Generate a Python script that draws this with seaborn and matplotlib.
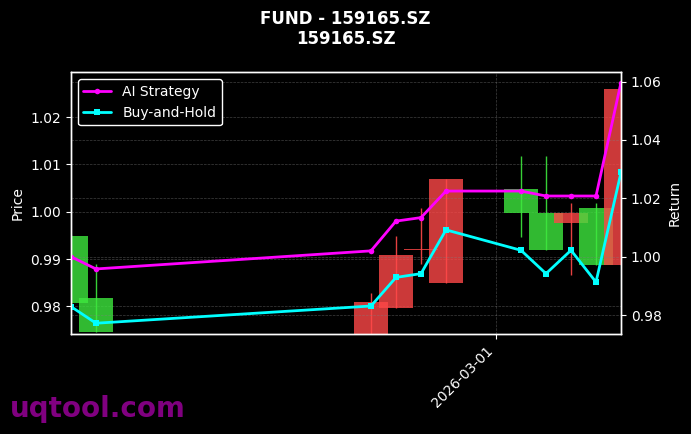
import matplotlib
matplotlib.use("Agg")
import matplotlib.pyplot as plt
import matplotlib.dates as mdates
from matplotlib.ticker import MultipleLocator
import seaborn as sns
import pandas as pd

# ---- data ----
dates = ["2026-02-12", "2026-02-13", "2026-02-24", "2026-02-25", "2026-02-26",
         "2026-02-27", "2026-03-02", "2026-03-03", "2026-03-04", "2026-03-05",
         "2026-03-06"]
open_ = [0.9949, 0.9818, 0.9738, 0.9797, 0.9918, 0.9849, 1.0047, 0.9998, 0.9977, 1.0007, 0.9887]
high = [0.9950, 0.9889, 0.9829, 0.9949, 1.0007, 1.0069, 1.0118, 1.0118, 1.0018, 1.0018, 1.0259]
low = [0.9805, 0.9746, 0.9738, 0.9797, 0.9889, 0.9849, 0.9947, 0.9918, 0.9866, 0.9887, 0.9887]
close = [0.9808, 0.9746, 0.9810, 0.9908, 0.9921, 1.0069, 0.9998, 0.9918, 0.9998, 0.9887, 1.0259]
ai_strategy = [1.0000, 0.9958, 1.0020, 1.0122, 1.0134, 1.0225, 1.0225, 1.0208, 1.0208, 1.0208, 1.0597]
buy_hold = [0.9829, 0.9772, 0.9831, 0.9929, 0.9942, 1.0092, 1.0022, 0.9942, 1.0022, 0.9913, 1.0289]
title_text = "FUND - 159165.SZ\n159165.SZ"

df = pd.DataFrame({"date": pd.to_datetime(dates), "open": open_, "high": high,
                   "low": low, "close": close, "AI Strategy": ai_strategy,
                   "Buy-and-Hold": buy_hold})

sns.set_theme(style="dark", rc={
    "figure.facecolor": "black", "axes.facecolor": "black",
    "axes.edgecolor": "white", "axes.labelcolor": "white",
    "xtick.color": "white", "ytick.color": "white", "text.color": "white",
    "xtick.bottom": True, "ytick.left": True,
})
plt.rcParams["font.family"] = ["DejaVu Sans"]

fig = plt.figure(figsize=(6.91, 4.34), dpi=100)
ax1 = fig.add_axes([0.1027, 0.2297, 0.7960, 0.6037])
ax2 = ax1.twinx()

up_col = "#ff4848"
down_col = "#3ee83e"
width = pd.Timedelta(days=1.35)
for _, r in df.iterrows():
    col = up_col if r["close"] >= r["open"] else down_col
    ax1.vlines(r["date"], r["low"], r["high"], color=col, linewidth=1, alpha=0.9)
    ax1.bar(r["date"], abs(r["close"] - r["open"]), bottom=min(r["open"], r["close"]),
            width=width, color=col, alpha=0.8, linewidth=0)

sns.lineplot(data=df, x="date", y="AI Strategy", ax=ax2, color="#ff00ff",
             marker="o", markersize=4, markeredgewidth=0, linewidth=2, label="AI Strategy")
sns.lineplot(data=df, x="date", y="Buy-and-Hold", ax=ax2, color="#00ffff",
             marker="s", markersize=4, markeredgewidth=0, linewidth=2, label="Buy-and-Hold")

ax1.set_xlim(df["date"].iloc[0], df["date"].iloc[-1])
ax1.set_ylim(0.97408, 1.02947)
ax2.set_ylim(0.9734, 1.0632)
ax2.yaxis.set_major_locator(MultipleLocator(0.02))

ax1.xaxis.set_major_locator(mdates.MonthLocator())
ax1.xaxis.set_major_formatter(mdates.DateFormatter("%Y-%m-%d"))
for lbl in ax1.get_xticklabels():
    lbl.set_rotation(45)
    lbl.set_ha("right")

ax1.set_ylabel("Price", color="white", fontsize=10)
ax2.set_ylabel("Return", color="white", fontsize=10)
ax1.set_xlabel("")
ax2.set_xlabel("")
ax1.tick_params(colors="white", labelsize=10, length=3.5, width=0.8)
ax2.tick_params(colors="white", labelsize=10, length=3.5, width=0.8, right=True)

grid_kw = dict(color="gray", linestyle="--", linewidth=0.5, alpha=0.5)
ax1.grid(True, **grid_kw)
ax2.grid(True, axis="y", **grid_kw)
ax2.xaxis.grid(False)
for ax in (ax1, ax2):
    for s in ax.spines.values():
        s.set_color("white")
        s.set_linewidth(1)

leg = ax2.legend(loc="upper left", facecolor="black", edgecolor="white",
                 labelcolor="white", fontsize=10, framealpha=1)

fig.suptitle(title_text, color="white", fontsize=12, fontweight="bold", y=0.978)
fig.text(0.015, 0.057, "uqtool.com", color="#800080", fontsize=20,
         fontweight="bold", ha="left", va="center")

fig.savefig("out.png", dpi=100, facecolor="black")
